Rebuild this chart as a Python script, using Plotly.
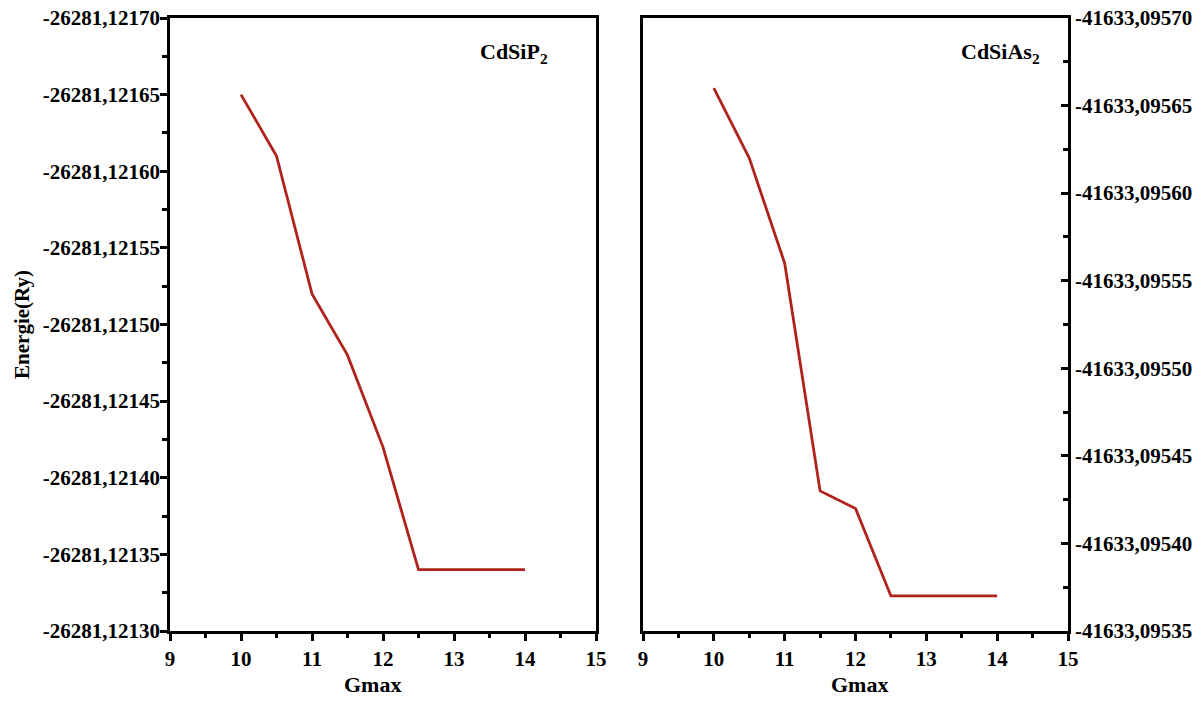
import plotly.graph_objects as go

# ---- data ----
gmax = [10, 10.5, 11, 11.5, 12, 12.5, 13, 13.5, 14]
energy_cdsip2 = [-26281.12165, -26281.12161, -26281.12152, -26281.12148, -26281.12142,
                 -26281.12134, -26281.12134, -26281.12134, -26281.12134]
energy_cdsias2 = [-41633.09566, -41633.09562, -41633.09556, -41633.09543, -41633.09542,
                  -41633.09537, -41633.09537, -41633.09537, -41633.09537]

x_ticks = [9, 10, 11, 12, 13, 14, 15]
left_tickvals = [-26281.12170, -26281.12165, -26281.12160, -26281.12155, -26281.12150,
                 -26281.12145, -26281.12140, -26281.12135, -26281.12130]
left_ticktext = ["-26281,12170", "-26281,12165", "-26281,12160", "-26281,12155", "-26281,12150",
                 "-26281,12145", "-26281,12140", "-26281,12135", "-26281,12130"]
right_tickvals = [-41633.09570, -41633.09565, -41633.09560, -41633.09555, -41633.09550,
                  -41633.09545, -41633.09540, -41633.09535]
right_ticktext = ["-41633,09570", "-41633,09565", "-41633,09560", "-41633,09555", "-41633,09550",
                  "-41633,09545", "-41633,09540", "-41633,09535"]

LINE_COLOR = "#b0231c"
FONT = "Liberation Serif"

# page has an 8px body margin; size figure to fit inside the 1204x704 window
W, H = 1188, 688
OFF = 8


def px_x(p):
    return (p - OFF) / W


def px_y(p):
    return (H - (p - OFF)) / H


fig = go.Figure()
fig.add_trace(go.Scatter(x=gmax, y=energy_cdsip2, mode="lines",
                         line=dict(color=LINE_COLOR, width=2.8), xaxis="x", yaxis="y",
                         showlegend=False))
fig.add_trace(go.Scatter(x=gmax, y=energy_cdsias2, mode="lines",
                         line=dict(color=LINE_COLOR, width=2.8), xaxis="x2", yaxis="y2",
                         showlegend=False))

ydom = [px_y(631), px_y(18)]

xcommon = dict(range=[9, 15], tickmode="array", tickvals=x_ticks, ticks="outside",
               ticklen=7, tickwidth=2.5, tickcolor="black", showline=True, linewidth=2.5,
               linecolor="black", mirror=True, showgrid=False, zeroline=False,
               automargin=False, ticklabeloverflow="allow",
               minor=dict(dtick=0.5, tick0=9, ticks="outside", ticklen=4, tickwidth=2.5,
                          tickcolor="black", showgrid=False),
               tickfont=dict(family=FONT, size=21, color="black", weight="bold"))

title_font = dict(family=FONT, size=22, color="black", weight="bold")
sub_font = dict(family=FONT, size=22, color="black", weight="bold")

fig.update_layout(
    width=W, height=H,
    margin=dict(l=0, r=0, t=0, b=0),
    paper_bgcolor="white", plot_bgcolor="white",
    font=dict(family=FONT, size=21, color="black", weight="bold"),
    xaxis=dict(domain=[px_x(170), px_x(596)], anchor="y", **xcommon),
    xaxis2=dict(domain=[px_x(643), px_x(1068)], anchor="y2", **xcommon),
    yaxis=dict(domain=ydom, anchor="x", range=[-26281.12130, -26281.12170],
               tickmode="array", tickvals=left_tickvals, ticktext=left_ticktext,
               ticks="outside", ticklen=7, tickwidth=2.5, tickcolor="black",
               showline=True, linewidth=2.5, linecolor="black", mirror=True,
               showgrid=False, zeroline=False, automargin=False,
               ticklabelstandoff=-4, ticklabeloverflow="allow",
               minor=dict(dtick=0.000025, tick0=-26281.12170, ticks="outside", ticklen=5,
                          tickwidth=2.5, tickcolor="black", showgrid=False),
               tickfont=dict(family=FONT, size=21, color="black", weight="bold"),
               title=dict(text="Energie(Ry)", standoff=8,
                          font=dict(family=FONT, size=21, color="black", weight="bold"))),
    yaxis2=dict(domain=ydom, anchor="x2", side="right", range=[-41633.09535, -41633.09570],
                tickmode="array", tickvals=right_tickvals, ticktext=right_ticktext,
                ticks="inside", ticklen=7, tickwidth=2.5, tickcolor="black",
                showline=True, linewidth=2.5, linecolor="black", mirror=True,
                showgrid=False, zeroline=False, automargin=False,
                ticklabeloverflow="allow",
                minor=dict(dtick=0.000025, tick0=-41633.09570, ticks="inside", ticklen=5,
                           tickwidth=2.5, tickcolor="black", showgrid=False),
                tickfont=dict(family=FONT, size=21, color="black", weight="bold")),
    annotations=[
        dict(text="CdSiP<sub>2</sub>", xref="x", yref="paper", x=13.85,
             y=px_y(37), yanchor="top", showarrow=False, font=sub_font),
        dict(text="CdSiAs<sub>2</sub>", xref="x2", yref="paper", x=14.05,
             y=px_y(37), yanchor="top", showarrow=False, font=sub_font),
        dict(text="Gmax", xref="x", yref="paper", x=11.85, y=px_y(684), yanchor="middle",
             showarrow=False, font=title_font),
        dict(text="Gmax", xref="x2", yref="paper", x=12.06, y=px_y(684), yanchor="middle",
             showarrow=False, font=title_font),
    ],
)

fig.write_html("out.html")
